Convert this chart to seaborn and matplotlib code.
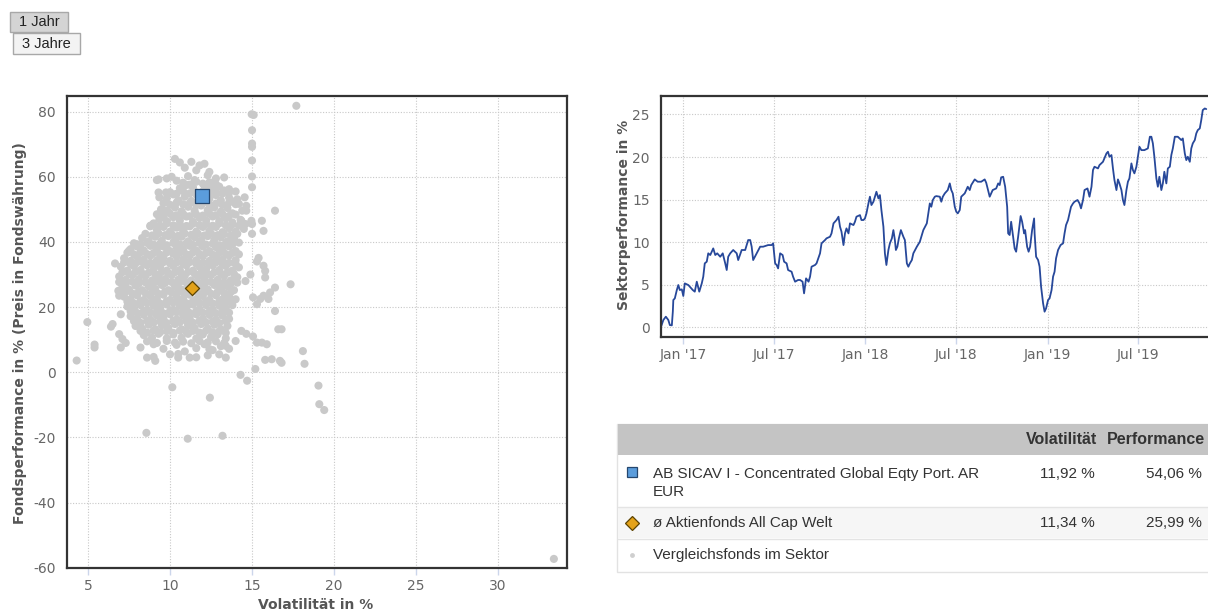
import numpy as np
import pandas as pd
import matplotlib
matplotlib.use("Agg")
import matplotlib.pyplot as plt
import matplotlib.dates as mdates
from matplotlib.patches import Rectangle
from matplotlib.lines import Line2D
import seaborn as sns

# ---------------- data ----------------
# comparison funds in the sector (volatility %, performance %)
peer_vol = [
    10.3, 10.6, 11.3, 11.8, 12.1, 11.6, 12.4, 10.9,
    9.3, 9.8, 10.4, 11.1, 11.5, 12.3, 12.8, 13.3, 12.7, 10.1,
    10.6, 11.0, 11.4, 12.1, 12.5, 13.0, 13.6, 14.0, 13.3,
    9.3, 9.8, 10.2, 10.5, 10.9, 11.3, 11.6, 12.4, 12.8, 13.1, 13.6, 13.9, 14.2,
    9.45, 9.9, 10.3, 10.7, 11.1, 11.5, 11.9, 12.3, 12.7, 13.1, 13.5, 13.8, 14.4,
    9.0, 9.4, 9.8, 10.2, 10.6, 11.0, 11.4, 11.8, 12.2, 12.6, 13.0, 13.4, 13.8, 14.3, 14.6,
    8.8, 9.2, 9.6, 10.0, 10.4, 10.8, 11.2, 11.6, 12.0, 12.4, 12.8, 13.2, 13.6, 14.0, 14.5,
    8.3, 8.7, 9.1, 9.5, 9.9, 10.3, 10.7, 11.1, 11.5, 11.9, 12.3, 12.7, 13.1, 13.5, 13.9, 14.2,
    7.6, 8.0, 8.4, 8.8, 9.2, 9.6, 10.0, 10.4, 10.8, 11.2, 11.6, 12.0, 12.4, 12.8, 13.2, 13.6, 14.0,
    7.2, 7.6, 8.0, 8.4, 8.8, 9.2, 9.6, 10.0, 10.4, 10.8, 11.2, 11.6, 12.0, 12.4, 12.8, 13.2, 13.6, 14.0,
    7.0, 7.4, 7.8, 8.2, 8.6, 9.0, 9.4, 9.8, 10.2, 10.6, 11.0, 11.4, 11.8, 12.2, 12.6, 13.0, 13.4, 13.8, 14.2,
    6.9, 7.3, 7.7, 8.1, 8.5, 8.9, 9.3, 9.7, 10.1, 10.5, 10.9, 11.3, 11.7, 12.1, 12.5, 12.9, 13.3, 13.7, 14.1,
    7.1, 7.5, 7.9, 8.3, 8.7, 9.1, 9.5, 9.9, 10.3, 10.7, 11.1, 11.5, 11.9, 12.3, 12.7, 13.1, 13.5, 13.9,
    7.2, 7.6, 8.0, 8.4, 8.8, 9.2, 9.6, 10.0, 10.4, 10.8, 11.2, 11.6, 12.0, 12.4, 12.8, 13.2, 13.6, 14.0,
    7.4, 7.8, 8.2, 8.6, 9.0, 9.4, 9.8, 10.2, 10.6, 11.0, 11.4, 11.8, 12.2, 12.6, 13.0, 13.4, 13.8,
    7.6, 8.0, 8.4, 8.8, 9.2, 9.6, 10.0, 10.4, 10.8, 11.2, 11.6, 12.0, 12.4, 12.8, 13.2, 13.6,
    7.9, 8.3, 8.7, 9.1, 9.5, 9.9, 10.3, 10.7, 11.1, 11.5, 11.9, 12.3, 12.7, 13.1, 13.5,
    8.4, 8.9, 9.3, 9.8, 10.2, 10.7, 11.1, 11.6, 12.0, 12.5, 12.9, 13.4,
    8.2, 9.0, 9.6, 10.4, 10.9, 11.6, 12.1, 12.6, 13.1, 13.6, 9.0, 11.6, 10.5, 12.3,
    # in-between rows of the dense core
    10.8, 11.2, 11.6, 12.0, 12.4, 12.8,
    10.0, 10.4, 10.8, 11.2, 11.6, 12.0, 12.4, 12.8, 13.2, 13.6,
    9.6, 10.0, 10.4, 10.8, 11.2, 11.6, 12.0, 12.4, 12.8, 13.2, 13.6, 14.0,
    9.2, 9.6, 10.0, 10.4, 10.8, 11.2, 11.6, 12.0, 12.4, 12.8, 13.2, 13.6, 14.0,
    9.0, 9.4, 9.8, 10.2, 10.6, 11.0, 11.4, 11.8, 12.2, 12.6, 13.0, 13.4, 13.8, 14.2,
    8.5, 8.9, 9.3, 9.7, 10.1, 10.5, 10.9, 11.3, 11.7, 12.1, 12.5, 12.9, 13.3, 13.7, 14.1,
    7.8, 8.2, 8.6, 9.0, 9.4, 9.8, 10.2, 10.6, 11.0, 11.4, 11.8, 12.2, 12.6, 13.0, 13.4, 13.8,
    7.4, 7.8, 8.2, 8.6, 9.0, 9.4, 9.8, 10.2, 10.6, 11.0, 11.4, 11.8, 12.2, 12.6, 13.0, 13.4, 13.8, 14.2,
    7.2, 7.6, 8.0, 8.4, 8.8, 9.2, 9.6, 10.0, 10.4, 10.8, 11.2, 11.6, 12.0, 12.4, 12.8, 13.2, 13.6, 14.0,
    7.1, 7.5, 7.9, 8.3, 8.7, 9.1, 9.5, 9.9, 10.3, 10.7, 11.1, 11.5, 11.9, 12.3, 12.7, 13.1, 13.5, 13.9,
    6.9, 7.3, 7.7, 8.1, 8.5, 8.9, 9.3, 9.7, 10.1, 10.5, 10.9, 11.3, 11.7, 12.1, 12.5, 12.9, 13.3, 13.7, 14.1,
    7.3, 7.7, 8.1, 8.5, 8.9, 9.3, 9.7, 10.1, 10.5, 10.9, 11.3, 11.7, 12.1, 12.5, 12.9, 13.3, 13.7,
    7.4, 7.8, 8.2, 8.6, 9.0, 9.4, 9.8, 10.2, 10.6, 11.0, 11.4, 11.8, 12.2, 12.6, 13.0, 13.4, 13.8,
    7.6, 8.0, 8.4, 8.8, 9.2, 9.6, 10.0, 10.4, 10.8, 11.2, 11.6, 12.0, 12.4, 12.8, 13.2, 13.6,
    7.8, 8.2, 8.6, 9.0, 9.4, 9.8, 10.2, 10.6, 11.0, 11.4, 11.8, 12.2, 12.6, 13.0, 13.4,
    8.2, 8.6, 9.0, 9.4, 9.8, 10.2, 10.6, 11.0, 11.4, 11.8, 12.2, 12.6, 13.0, 13.4,
    8.6, 9.2, 9.8, 10.3, 10.8, 11.3, 11.8, 12.3, 12.8, 13.3,
    # scattered funds
    6.65, 6.85, 6.9, 7.0, 6.5, 6.4, 6.9, 7.1, 7.0, 7.3, 4.96, 5.4, 5.4, 4.31, 7.5, 8.0,
    8.8, 9.35, 9.75, 9.75, 9.35, 9.2, 8.6, 9.1, 10.0, 10.5, 11.2, 12.4, 13.0, 13.4, 13.4, 14.0,
    14.98, 15.1, 15.0, 15.0, 15.0, 15.0, 15.0, 15.0, 14.1, 14.55, 14.65, 14.65, 14.35, 14.96,
    15.0, 15.0, 15.6, 16.4, 15.7, 15.4, 15.3, 15.8, 15.8, 15.7, 14.9, 14.6, 15.06, 15.7,
    15.5, 15.3, 16.1, 16.0, 16.4, 16.4, 17.35, 16.6, 16.8, 14.35, 14.65, 15.06, 15.3, 15.6,
    15.9, 16.2, 16.7, 15.8, 15.2, 14.3, 14.7, 18.1, 16.8, 18.2, 19.05, 17.7,
    10.14, 12.43, 19.1, 19.4, 8.56, 11.08, 13.2, 33.4,
]
peer_perf = [
    65.5, 64.4, 64.6, 63.5, 64.0, 62.0, 61.5, 62.8,
    59.2, 59.5, 58.8, 60.2, 59.0, 60.5, 59.5, 59.8, 58.5, 60.0,
    56.5, 57.5, 56.8, 57.2, 56.3, 57.0, 56.2, 55.5, 55.8,
    55.2, 53.4, 54.6, 52.8, 53.9, 52.6, 54.6, 53.3, 54.4, 52.8, 53.6, 52.4, 51.7,
    50.0, 49.2, 50.6, 49.4, 50.8, 49.6, 51.2, 49.8, 50.6, 49.3, 50.4, 48.8, 49.6,
    45.7, 47.4, 46.4, 47.6, 46.6, 47.8, 46.2, 47.4, 46.6, 47.8, 46.4, 47.2, 46.0, 46.8, 45.5,
    44.8, 43.6, 44.6, 43.2, 44.4, 43.4, 44.8, 43.2, 44.6, 43.4, 44.6, 43.0, 44.2, 43.2, 44.0,
    41.2, 40.2, 41.6, 40.4, 41.8, 40.6, 41.6, 40.2, 41.4, 40.4, 41.8, 40.6, 41.4, 40.2, 41.2, 39.8,
    37.8, 38.6, 37.4, 38.8, 37.6, 38.6, 37.2, 38.4, 37.6, 38.8, 37.4, 38.6, 37.2, 38.4, 37.6, 38.6, 37.2,
    35.0, 34.2, 35.6, 34.6, 35.8, 34.4, 35.4, 34.2, 35.6, 34.6, 35.8, 34.4, 35.6, 34.2, 35.4, 34.6, 35.8, 34.4,
    32.4, 31.2, 32.6, 31.4, 32.8, 31.6, 32.4, 31.2, 32.6, 31.4, 32.8, 31.2, 32.4, 31.6, 32.8, 31.4, 32.6, 31.2, 32.2,
    29.4, 28.4, 29.8, 28.6, 29.6, 28.2, 29.4, 28.6, 29.8, 28.4, 29.6, 28.2, 29.4, 28.6, 29.8, 28.4, 29.6, 28.2, 29.2,
    26.2, 25.4, 26.6, 25.2, 26.4, 25.6, 26.8, 25.2, 26.4, 25.4, 26.6, 25.2, 26.4, 25.4, 26.8, 25.6, 26.4, 25.2,
    23.2, 22.4, 23.6, 22.2, 23.4, 22.6, 23.8, 22.2, 23.4, 22.6, 23.8, 22.4, 23.4, 22.2, 23.6, 22.4, 23.2, 22.4,
    20.2, 19.4, 20.6, 19.2, 20.4, 19.6, 20.8, 19.2, 20.4, 19.6, 20.8, 19.4, 20.6, 19.2, 20.4, 19.6, 20.6,
    17.2, 16.4, 17.6, 16.2, 17.4, 16.6, 17.8, 16.2, 17.4, 16.6, 17.8, 16.4, 17.6, 16.2, 17.4, 16.4,
    14.2, 13.4, 14.6, 13.2, 14.4, 13.6, 14.8, 13.2, 14.4, 13.6, 14.8, 13.4, 14.6, 13.2, 14.2,
    11.4, 10.6, 11.8, 10.4, 11.6, 10.6, 11.8, 10.4, 11.6, 10.8, 11.6, 10.4,
    7.6, 8.6, 7.2, 8.4, 6.4, 7.4, 8.6, 6.8, 8.0, 7.2, 4.7, 4.6, 5.6, 5.2,
    # in-between rows of the dense core
    58.2, 57.6, 58.5, 57.9, 58.3, 57.7,
    55.3, 54.8, 55.6, 54.9, 55.2, 55.5, 54.7, 55.4, 54.9, 55.1,
    51.9, 51.4, 52.1, 51.6, 51.9, 51.3, 52.0, 51.5, 51.8, 51.4, 52.1, 51.6,
    48.5, 48.0, 48.7, 48.2, 48.6, 47.9, 48.4, 48.1, 48.7, 48.2, 48.5, 48.0, 48.4,
    45.5, 45.0, 45.7, 45.1, 45.4, 44.9, 45.6, 45.2, 45.5, 45.0, 45.7, 45.1, 45.4, 45.0,
    42.5, 42.0, 42.6, 42.1, 42.4, 41.9, 42.6, 42.2, 42.5, 42.0, 42.6, 42.1, 42.4, 42.0, 42.5,
    39.6, 39.1, 39.7, 39.2, 39.5, 39.0, 39.7, 39.3, 39.6, 39.1, 39.7, 39.2, 39.5, 39.0, 39.6, 39.2,
    36.7, 36.2, 36.8, 36.3, 36.6, 36.1, 36.8, 36.4, 36.7, 36.2, 36.8, 36.3, 36.6, 36.1, 36.7, 36.3, 36.6, 36.2,
    33.7, 33.2, 33.8, 33.3, 33.6, 33.1, 33.8, 33.4, 33.7, 33.2, 33.8, 33.3, 33.6, 33.1, 33.7, 33.3, 33.6, 33.2,
    30.7, 30.2, 30.8, 30.3, 30.6, 30.1, 30.8, 30.4, 30.7, 30.2, 30.8, 30.3, 30.6, 30.1, 30.7, 30.3, 30.6, 30.2,
    27.7, 27.2, 27.8, 27.3, 27.6, 27.1, 27.8, 27.4, 27.7, 27.2, 27.8, 27.3, 27.6, 27.1, 27.7, 27.3, 27.6, 27.2, 27.5,
    24.7, 24.2, 24.8, 24.3, 24.6, 24.1, 24.8, 24.4, 24.7, 24.2, 24.8, 24.3, 24.6, 24.1, 24.7, 24.3, 24.6,
    21.7, 21.2, 21.8, 21.3, 21.6, 21.1, 21.8, 21.4, 21.7, 21.2, 21.8, 21.3, 21.6, 21.1, 21.7, 21.3, 21.6,
    18.7, 18.2, 18.8, 18.3, 18.6, 18.1, 18.8, 18.4, 18.7, 18.2, 18.8, 18.3, 18.6, 18.1, 18.7, 18.3,
    15.7, 15.2, 15.8, 15.3, 15.6, 15.1, 15.8, 15.4, 15.7, 15.2, 15.8, 15.3, 15.6, 15.1, 15.7,
    12.7, 12.2, 12.8, 12.3, 12.6, 12.1, 12.8, 12.4, 12.7, 12.2, 12.8, 12.3, 12.6, 12.1,
    9.5, 9.0, 9.6, 9.1, 9.4, 8.9, 9.6, 9.2, 9.5, 9.0,
    # scattered funds
    33.4, 25.0, 23.5, 17.8, 14.8, 14.0, 11.7, 10.2, 7.6, 9.0, 15.4, 8.5, 7.6, 3.6, 37.3, 39.3,
    45.0, 47.0, 49.6, 55.2, 53.7, 59.0, 4.5, 3.5, 5.5, 4.5, 4.5, 7.1, 5.5, 8.1, 4.5, 9.6,
    79.2, 79.0, 74.3, 70.2, 69.2, 65.0, 60.1, 56.8, 53.1, 53.7, 51.1, 49.6, 46.5, 46.5,
    45.5, 42.5, 46.5, 49.6, 43.4, 35.1, 34.0, 31.1, 29.1, 32.7, 30.0, 28.0, 23.0, 23.5,
    22.5, 20.9, 24.5, 22.5, 26.0, 18.8, 27.0, 13.2, 13.2, 12.7, 11.8, 11.0, 9.1, 9.1,
    8.6, 4.0, 3.5, 3.8, 1.0, -0.8, -2.6, 6.5, 2.9, 2.6, -4.1, 81.8,
    -4.6, -7.8, -9.8, -11.6, -18.6, -20.4, -19.5, -57.3,
]
fund_name = "AB SICAV I - Concentrated Global Eqty Port. AR"
fund_name_2 = "EUR"
fund_vol, fund_perf = 11.92, 54.06
avg_name = "ø Aktienfonds All Cap Welt"
avg_vol, avg_perf = 11.34, 25.99
peer_label = "Vergleichsfonds im Sektor"
table_header = ["Volatilität", "Performance"]
fund_vol_txt, fund_perf_txt = "11,92 %", "54,06 %"
avg_vol_txt, avg_perf_txt = "11,34 %", "25,99 %"

# sector performance line (days since 2017-01-01, performance %)
sector_days = [
    -45, -40, -35, -30, -27, -23, -21, -20, -17, -13,
    -10, -7, -3, 0, 3, 10, 13, 19, 23, 27,
    32, 37, 40, 43, 47, 50, 54, 57, 60, 64,
    68, 74, 79, 84, 87, 90, 94, 100, 107, 110,
    117, 124, 130, 134, 137, 140, 147, 154, 160, 170,
    177, 180, 184, 187, 190, 194, 199, 202, 207, 210,
    217, 220, 224, 230, 234, 239, 242, 246, 251, 254,
    257, 264, 267, 274, 277, 284, 287, 294, 297, 301,
    307, 311, 314, 317, 321, 324, 327, 331, 334, 341,
    344, 347, 354, 357, 361, 364, 367, 371, 374, 377,
    381, 387, 391, 394, 397, 401, 404, 407, 411, 414,
    418, 421, 424, 426, 429, 432, 436, 441, 444, 448,
    451, 454, 458, 461, 468, 474, 481, 488, 494,
    497, 500, 504, 507, 514, 517, 520, 524, 530, 534,
    537, 540, 544, 547, 550, 554, 557, 564, 570, 574,
    577, 584, 590, 597, 604, 607, 614, 620, 627, 631,
    634, 637, 641, 645, 649, 651, 654, 657, 661, 664,
    667, 671, 676, 679, 683, 685, 689, 692, 695, 699,
    703, 704, 707, 711, 714, 717, 721, 724, 727, 731,
    734, 738, 741, 744, 747, 751, 756, 761, 764, 767,
    771, 774, 777, 781, 784, 790, 794, 797, 801, 804,
    810, 814, 818, 821, 824, 831, 834, 841, 848, 851,
    854, 858, 861, 864, 868, 871, 874, 878, 881, 884,
    888, 891, 894, 898, 901, 904, 908, 911, 914, 918,
    924, 931, 935, 938, 941, 944, 948, 951, 954, 958,
    961, 964, 968, 971, 975, 978, 981, 985, 991, 998,
    1001, 1005, 1008, 1011, 1015, 1018, 1021, 1025, 1028, 1031,
    1035, 1038, 1041, 1045, 1048,
]
sector_perf = [
    0.00, 0.86, 1.25, 0.86, 0.27, 0.23, 1.84, 3.21, 3.40, 4.38,
    4.97, 4.38, 4.46, 3.68, 5.16, 4.97, 4.77, 4.38, 4.19, 5.36,
    4.19, 5.16, 5.95, 7.51, 7.71, 8.69, 8.49, 8.88, 9.27, 8.49,
    8.69, 8.29, 8.69, 7.51, 6.73, 8.29, 8.69, 9.08, 8.69, 7.90,
    9.08, 9.08, 10.25, 10.25, 9.47, 7.90, 8.69, 9.47, 9.47, 9.66,
    9.66, 9.86, 7.51, 7.32, 6.92, 8.69, 8.49, 7.71, 7.51, 6.73,
    6.53, 5.95, 5.36, 5.56, 5.56, 5.36, 3.99, 5.75, 5.36, 5.95,
    7.12, 7.32, 7.51, 8.69, 9.86, 10.25, 10.45, 10.64, 11.03, 12.21,
    12.60, 12.99, 11.82, 11.23, 9.66, 11.03, 11.62, 11.03, 12.21, 12.01,
    12.40, 12.99, 13.18, 12.60, 12.60, 12.79, 13.38, 14.55, 15.34, 14.36,
    14.75, 15.92, 15.14, 15.53, 13.77, 11.82, 8.69, 7.32, 9.08, 9.86,
    10.45, 11.42, 10.25, 9.08, 9.47, 10.45, 11.42, 10.64, 10.25, 7.51,
    7.12, 7.51, 7.90, 8.69, 9.47, 10.05, 11.42, 12.21, 14.55,
    14.16, 14.95, 15.34, 15.41, 15.34, 14.75, 15.34, 15.73, 16.12, 16.90,
    16.12, 15.73, 14.16, 13.58, 13.38, 13.77, 15.34, 15.73, 16.51, 16.12,
    16.71, 17.37, 17.10, 17.10, 17.37, 16.98, 15.34, 16.12, 16.31, 16.90,
    16.71, 17.61, 17.68, 16.51, 14.16, 11.03, 10.84, 12.40, 10.64, 9.27,
    8.88, 10.64, 13.07, 12.40, 11.03, 11.42, 9.47, 8.88, 9.47, 11.42,
    12.79, 11.03, 8.29, 7.90, 7.12, 4.77, 2.82, 1.84, 2.23, 3.21,
    3.40, 4.38, 5.95, 6.53, 8.10, 9.08, 9.66, 9.86, 11.03, 12.01,
    12.60, 13.38, 14.16, 14.55, 14.75, 14.95, 14.55, 13.97, 14.95, 16.12,
    16.31, 15.34, 16.51, 18.47, 18.86, 18.66, 19.05, 19.44, 20.42, 20.62,
    20.03, 20.23, 18.66, 17.29, 16.12, 17.37, 16.90, 16.12, 14.95, 14.36,
    16.12, 17.10, 17.49, 19.25, 18.47, 18.08, 18.86, 20.03, 21.21, 20.81,
    20.81, 21.01, 22.38, 22.38, 21.60, 20.03, 17.49, 16.51, 17.68, 16.12,
    16.90, 18.27, 16.90, 18.66, 18.86, 20.23, 21.01, 22.38, 22.38, 21.99,
    22.18, 20.42, 19.64, 20.03, 19.44, 21.01, 21.60, 21.99, 22.77, 23.16,
    23.36, 24.34, 25.51, 25.70, 25.63,
]
scatter_xticks = [5, 10, 15, 20, 25, 30]
scatter_yticks = [-60, -40, -20, 0, 20, 40, 60, 80]
line_yticks = [0, 5, 10, 15, 20, 25]
buttons = ["1 Jahr", "3 Jahre"]

assert len(peer_vol) == len(peer_perf)
assert len(sector_days) == len(sector_perf)

# ---------------- style ----------------
sns.set_theme(style="white")
plt.rcParams['font.family'] = ['DejaVu Sans']
plt.rcParams['axes.unicode_minus'] = False

W, H = 1208, 615
fig = plt.figure(figsize=(W / 100, H / 100), dpi=100)
fig.patch.set_facecolor('white')


def fx(px):
    return px / W


def fy(py):
    return 1 - py / H


TICK_COL = '#666666'
LABEL_COL = '#555555'
GRID_KW = dict(color='#c8c8c8', linestyle=(0, (1, 1.5)), linewidth=0.8)

# ---------------- scatter ----------------
ax1 = fig.add_axes([fx(67), fy(567.7), fx(567) - fx(67), fy(95.7) - fy(567.7)])
peers = pd.DataFrame({'vol': peer_vol, 'perf': peer_perf})
sns.scatterplot(data=peers, x='vol', y='perf', ax=ax1, color='#c9c9c9', s=34,
                edgecolor='none', linewidth=0, zorder=2, legend=False)
sns.scatterplot(x=[avg_vol], y=[avg_perf], ax=ax1, marker='D', s=52, color='#e3a21a',
                edgecolor='#5c4300', linewidth=0.9, zorder=4, legend=False)
sns.scatterplot(x=[fund_vol], y=[fund_perf], ax=ax1, marker='s', s=105, color='#5b9ddc',
                edgecolor='#25476e', linewidth=0.9, zorder=5, legend=False)
ax1.set_xlim(3.72, 34.2)
ax1.set_ylim(-60, 84.9)
ax1.set_xticks(scatter_xticks)
ax1.set_yticks(scatter_yticks)
ax1.grid(True, **GRID_KW)
ax1.set_axisbelow(True)
for sp in ax1.spines.values():
    sp.set_color('#333333')
    sp.set_linewidth(1.6)
ax1.tick_params(axis='x', length=5, width=1, color='#ccd6eb', labelsize=10,
                labelcolor=TICK_COL, pad=3, direction='out', bottom=True)
ax1.tick_params(axis='y', length=0, labelsize=10, labelcolor=TICK_COL, pad=8, left=False)
ax1.set_xlabel('Volatilität in %', fontsize=10, fontweight='bold', color=LABEL_COL)
ax1.set_ylabel('Fondsperformance in % (Preis in Fondswährung)', fontsize=10,
               fontweight='bold', color=LABEL_COL)
ax1.xaxis.set_label_coords((316 - 67) / 500, -(598 - 567.7) / 472)
ax1.yaxis.set_label_coords((27 - 67) / 500, (567.7 - 333) / 472)

# ---------------- sector line ----------------
ax2 = fig.add_axes([fx(661), fy(337.3), fx(1212) - fx(661), fy(95.7) - fy(337.3)])
start = pd.Timestamp('2017-01-01')
sector = pd.DataFrame({'date': start + pd.to_timedelta(sector_days, unit='D'),
                       'perf': sector_perf})
sns.lineplot(data=sector, x='date', y='perf', ax=ax2, color='#27489a', linewidth=1.3)
ax2.set_xlim(start + pd.Timedelta(days=-44.7), start + pd.Timedelta(days=1059.5))
ax2.set_ylim(-1.17, 27.2)
ax2.set_yticks(line_yticks)
ax2.xaxis.set_major_locator(mdates.MonthLocator(bymonth=[1, 7]))
ax2.xaxis.set_major_formatter(mdates.DateFormatter("%b '%y"))
ax2.grid(True, **GRID_KW)
ax2.set_axisbelow(True)
for sp in ax2.spines.values():
    sp.set_color('#333333')
    sp.set_linewidth(1.6)
ax2.tick_params(axis='x', length=5, width=1, color='#ccd6eb', labelsize=10,
                labelcolor=TICK_COL, pad=3, direction='out', bottom=True)
ax2.tick_params(axis='y', length=0, labelsize=10, labelcolor=TICK_COL, pad=8, left=False)
ax2.set_xlabel('')
ax2.set_ylabel('Sektorperformance in %', fontsize=10, fontweight='bold', color=LABEL_COL)
ax2.yaxis.set_label_coords((631 - 661) / 551, (337.3 - 215) / 241.6)

# ---------------- table ----------------
TFONT = ['Liberation Sans', 'DejaVu Sans']
fig.add_artist(Rectangle((fx(617), fy(572)), fx(1210) - fx(617), fy(424) - fy(572),
                         transform=fig.transFigure, facecolor='white',
                         edgecolor='#e2e2e2', linewidth=1))
fig.add_artist(Rectangle((fx(618), fy(455)), fx(1210) - fx(618), fy(424) - fy(455),
                         transform=fig.transFigure, facecolor='#c4c4c4', edgecolor='none'))
fig.add_artist(Rectangle((fx(618), fy(538)), fx(1210) - fx(618), fy(507) - fy(538),
                         transform=fig.transFigure, facecolor='#f6f6f6', edgecolor='none'))
for yy in (506.5, 538.5):
    fig.add_artist(Line2D([fx(618), fx(1210)], [fy(yy), fy(yy)], transform=fig.transFigure,
                          color='#e4e4e4', linewidth=1))
fig.text(fx(1097), fy(440), table_header[0], ha='right', va='center', fontsize=11.5,
         fontweight='bold', family=TFONT, color='#333333')
fig.text(fx(1205), fy(440), table_header[1], ha='right', va='center', fontsize=11.5,
         fontweight='bold', family=TFONT, color='#333333')

txt_kw = dict(fontsize=11, family=TFONT, color='#333333', va='center')
fig.text(fx(653), fy(474), fund_name, ha='left', **txt_kw)
fig.text(fx(653), fy(492), fund_name_2, ha='left', **txt_kw)
fig.text(fx(1095), fy(474), fund_vol_txt, ha='right', **txt_kw)
fig.text(fx(1202), fy(474), fund_perf_txt, ha='right', **txt_kw)
fig.text(fx(653), fy(523), avg_name, ha='left', **txt_kw)
fig.text(fx(1095), fy(523), avg_vol_txt, ha='right', **txt_kw)
fig.text(fx(1202), fy(523), avg_perf_txt, ha='right', **txt_kw)
fig.text(fx(653), fy(555), peer_label, ha='left', **txt_kw)

fig.add_artist(Line2D([fx(632)], [fy(472)], transform=fig.transFigure, marker='s',
                      markersize=7, markerfacecolor='#5b9ddc', markeredgecolor='#25476e',
                      markeredgewidth=0.9, linestyle='none'))
fig.add_artist(Line2D([fx(632)], [fy(523)], transform=fig.transFigure, marker='D',
                      markersize=7, markerfacecolor='#e3a21a', markeredgecolor='#5c4300',
                      markeredgewidth=0.9, linestyle='none'))
fig.add_artist(Line2D([fx(632)], [fy(555)], transform=fig.transFigure, marker='o',
                      markersize=3.5, markerfacecolor='#cfcfcf', markeredgecolor='none',
                      linestyle='none'))

# ---------------- buttons ----------------
fig.add_artist(Rectangle((fx(10), fy(32)), fx(68) - fx(10), fy(12) - fy(32),
                         transform=fig.transFigure, facecolor='#d4d4d4',
                         edgecolor='#a8a8a8', linewidth=1))
fig.text(fx(39), fy(22), buttons[0], ha='center', va='center', fontsize=10.5,
         family=TFONT, color='#222222')
fig.add_artist(Rectangle((fx(13), fy(54)), fx(80) - fx(13), fy(33) - fy(54),
                         transform=fig.transFigure, facecolor='#f3f3f3',
                         edgecolor='#a8a8a8', linewidth=1))
fig.text(fx(46.5), fy(43.5), buttons[1], ha='center', va='center', fontsize=10.5,
         family=TFONT, color='#222222')

fig.savefig('out.png', dpi=100)
